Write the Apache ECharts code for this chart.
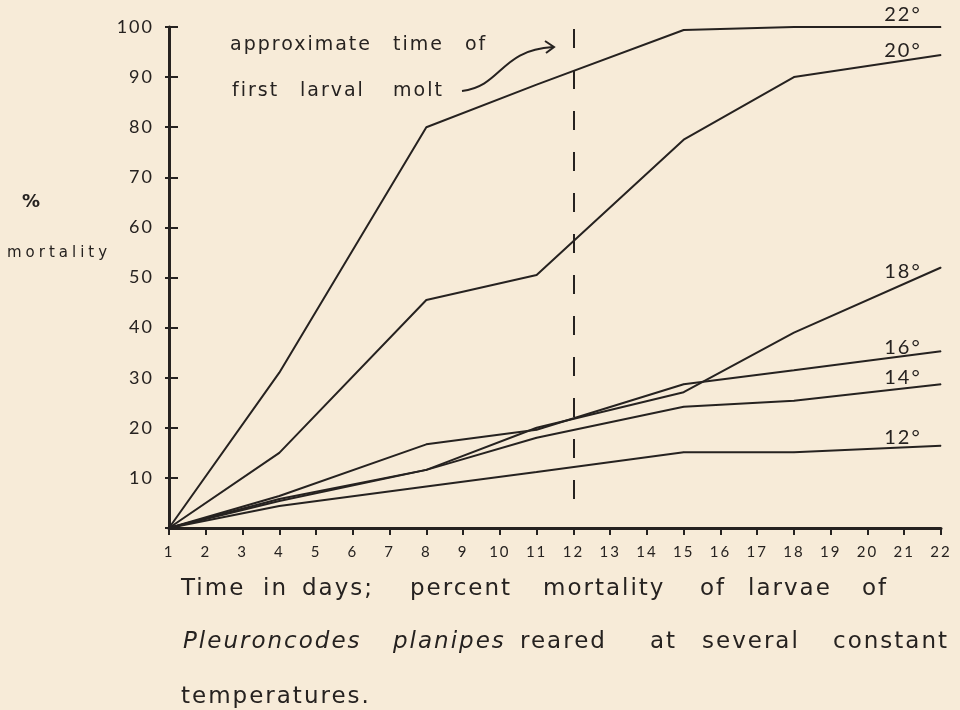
<!DOCTYPE html>
<html>
<head>
<meta charset="utf-8">
<script src="https://cdn.jsdelivr.net/npm/echarts@6/dist/echarts.min.js"></script>
<style>
  html, body { margin: 0; padding: 0; background: #f7ebd8; }
  #chart { width: 960px; height: 710px; }
</style>
</head>
<body>
<div id="chart"></div>
<script>
// ---- data ----
const days = [1, 4, 8, 11, 15, 18, 22];
const temperatures = ['22°', '20°', '18°', '16°', '14°', '12°'];
const mort22 = [0, 31, 80, 88.5, 99.4, 100, 100];
const mort20 = [0, 15, 45.5, 50.5, 77.5, 90, 94.4];
const mort18 = [0, 5.8, 11.6, 20, 27.1, 39, 52];
const mort16 = [0, 6.4, 16.7, 19.6, 28.7, 31.5, 35.3];
const mort14 = [0, 5.4, 11.6, 18, 24.2, 25.4, 28.7];
const mort12 = [0, 4.4, 8.3, 11.2, 15.1, 15.1, 16.4];
const moltDay = 12;
const moltRange = [99.6, 5.5];

const INK = '#262220';
const FONT = 'Lato';
const LETTER = 'DejaVu Sans';

// widen letter spacing for the hand-lettered captions (DejaVu text only)
(function () {
  const proto = CanvasRenderingContext2D.prototype;
  const orig = proto.fillText;
  proto.fillText = function (t, x, y, w) {
    if (this.font && this.font.indexOf('DejaVu') >= 0 && 'letterSpacing' in this) {
      const prev = this.letterSpacing;
      const m = /(\d+)px/.exec(this.font);
      const size = m ? +m[1] : 20;
      this.letterSpacing = size <= 16 ? '4px' : '2px';
      const r = w === undefined ? orig.call(this, t, x, y) : orig.call(this, t, x, y, w);
      this.letterSpacing = prev;
      return r;
    }
    return w === undefined ? orig.call(this, t, x, y) : orig.call(this, t, x, y, w);
  };
})();

const allSeries = [mort22, mort20, mort18, mort16, mort14, mort12];
const labelDy = [-12, -5, 4, -4, -7, -8];

const series = allSeries.map((vals, si) => ({
  type: 'line',
  name: temperatures[si],
  symbol: 'circle',
  symbolSize: 1,
  showSymbol: true,
  itemStyle: { color: INK },
  lineStyle: { color: INK, width: 2 },
  animation: false,
  data: vals.map((v, i) => {
    const item = { value: [days[i], v] };
    if (i === vals.length - 1) {
      item.label = {
        show: true,
        formatter: temperatures[si],
        position: 'inside',
        offset: [-38, labelDy[si]],
        color: INK,
        fontFamily: FONT,
        fontSize: 20
      };
    }
    return item;
  })
}));

series[0].markLine = {
  silent: true,
  symbol: 'none',
  label: { show: false },
  lineStyle: { color: INK, width: 2, type: [19, 22] },
  data: [[{ coord: [moltDay, moltRange[0]] }, { coord: [moltDay, moltRange[1]] }]]
};

function word(text, x, y, size, italic, bold) {
  return {
    type: 'text', x: x, y: y, silent: true,
    style: {
      text: text, fill: INK,
      font: (italic ? 'italic ' : '') + (bold ? 'bold ' : '') + size + 'px "' + LETTER + '"',
      align: 'left', verticalAlign: 'middle',
      textAlign: 'left', textVerticalAlign: 'middle'
    }
  };
}

const graphics = [
  word('%', 22, 202, 18, false, true),
  word('mortality', 7, 253, 15),
  // annotation
  word('approximate', 230, 45, 19), word('time', 393, 45, 19), word('of', 465, 45, 19),
  word('first', 232, 91, 19), word('larval', 300, 91, 19), word('molt', 393, 91, 19),
  { type: 'bezierCurve', shape: { x1: 462, y1: 91, cpx1: 502, cpy1: 86, cpx2: 500, cpy2: 50, x2: 553, y2: 47 },
    style: { stroke: INK, lineWidth: 2, fill: null } },
  { type: 'polyline', shape: { points: [[545, 41], [554, 47], [546, 53]] },
    style: { stroke: INK, lineWidth: 2, fill: null } },
  // caption line 1
  word('Time', 181, 589, 23), word('in', 263, 589, 23), word('days;', 302, 589, 23),
  word('percent', 410, 589, 23), word('mortality', 543, 589, 23), word('of', 700, 589, 23),
  word('larvae', 748, 589, 23), word('of', 862, 589, 23),
  // caption line 2
  word('Pleuroncodes', 183, 642, 23, true), word('planipes', 393, 642, 23, true),
  word('reared', 520, 642, 23), word('at', 650, 642, 23), word('several', 702, 642, 23),
  word('constant', 833, 642, 23),
  // caption line 3
  word('temperatures.', 181, 697, 23)
];

const chart = echarts.init(document.getElementById('chart'));
chart.setOption({
  backgroundColor: '#f7ebd8',
  animation: false,
  grid: { left: 169, right: 19, top: 27, bottom: 182, containLabel: false },
  xAxis: {
    type: 'value', min: 1, max: 22, interval: 1,
    axisLine: { lineStyle: { color: INK, width: 3 } },
    axisTick: { show: true, length: 7, lineStyle: { color: INK, width: 2 } },
    axisLabel: { color: INK, fontFamily: FONT, fontSize: 15, margin: 17 },
    splitLine: { show: false }
  },
  yAxis: [{
    type: 'value', min: 0, max: 100, interval: 10,
    axisLine: { show: true, lineStyle: { color: INK, width: 3 } },
    axisTick: { show: true, inside: true, length: 9, lineStyle: { color: INK, width: 2 } },
    axisLabel: { color: INK, fontFamily: FONT, fontSize: 18, margin: 15,
      formatter: v => (v === 0 ? '' : String(v)) },
    splitLine: { show: false }
  }, {
    type: 'value', min: 0, max: 100, interval: 10, position: 'left',
    axisLine: { show: false },
    axisTick: { show: true, inside: false, length: 4, lineStyle: { color: INK, width: 2 } },
    axisLabel: { show: false },
    splitLine: { show: false }
  }],
  series: series,
  graphic: graphics
});
</script>
</body>
</html>
